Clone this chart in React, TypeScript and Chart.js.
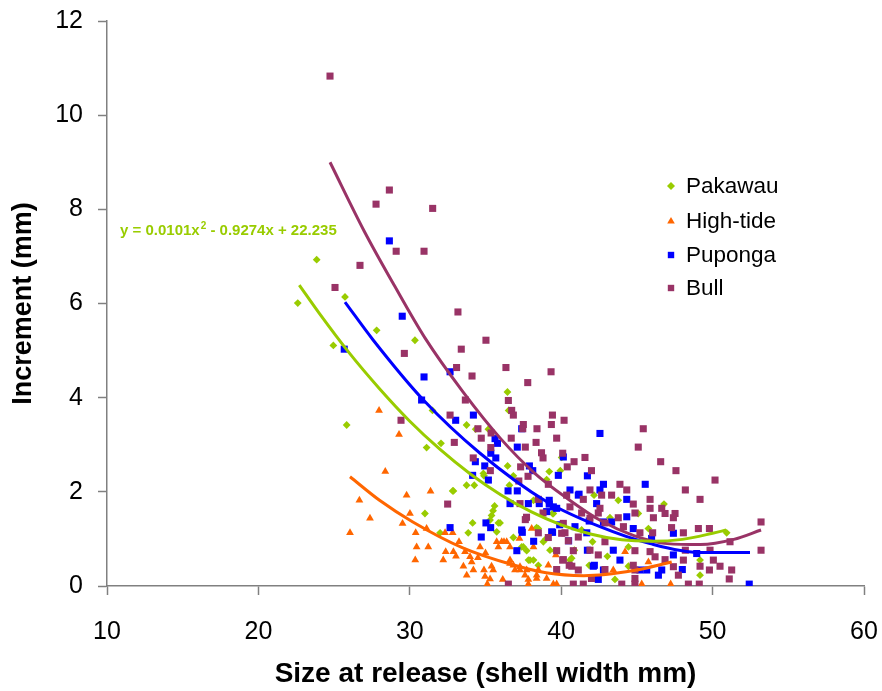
import React, { useEffect, useRef } from "react";
import { Chart, registerables } from "chart.js";

Chart.register(...registerables);

// ---------- data ----------
const xTicks = [10, 20, 30, 40, 50, 60];
const yTicks = [0, 2, 4, 6, 8, 10, 12];
const seriesNames = ["Pakawau", "High-tide", "Puponga", "Bull"];
const xTitle = "Size at release (shell width mm)";
const yTitle = "Increment (mm)";
const equationParts = ["y = 0.0101x", "2", " - 0.9274x + 22.235"];

const pakawauPoints: [number, number][] = [
  [22.6, 6.01], [23.85, 6.93], [25.72, 6.14], [27.81, 5.43], [30.34, 5.22], [24.95, 5.11], [25.83, 3.42],
  [31.11, 2.94], [32.06, 3.03], [31.5, 3.73], [36.45, 4.12], [36.53, 3.73], [33.75, 3.42], [34.35, 3.33],
  [35.19, 3.33], [32.88, 2.02], [33.75, 2.14], [34.26, 2.14], [34.9, 2.34], [31.0, 1.54], [34.15, 1.34],
  [33.86, 1.13], [32.0, 1.13], [35.5, 1.6], [35.4, 1.5], [35.3, 1.4], [35.6, 1.7], [35.85, 1.34],
  [35.74, 1.15], [36.46, 2.55], [36.84, 2.34], [39.04, 2.26], [39.21, 2.43], [40.03, 2.73], [36.58, 2.14],
  [36.68, 1.75], [39.48, 1.54], [36.84, 1.03], [37.39, 0.83], [37.72, 0.75], [37.94, 0.55], [38.17, 0.55],
  [38.49, 0.44], [38.82, 0.94], [39.59, 0.75], [40.58, 0.55], [40.87, 0.76], [39.94, 2.45], [43.77, 1.82],
  [46.79, 1.74], [45.09, 1.54], [43.22, 1.45], [42.17, 1.93], [39.43, 1.54], [38.38, 1.24], [41.35, 1.19],
  [42.07, 0.94], [44.44, 0.83], [45.76, 1.22], [50.93, 1.13], [39.26, 0.76], [40.69, 0.59], [43.05, 0.63],
  [43.55, 0.14], [49.17, 0.23], [49.17, 0.55], [44.44, 0.42], [41.85, 0.44], [37.84, 0.55], [35.96, 1.34],
  [38.17, 1.82], [38.49, 1.22], [38.99, 1.0], [37.5, 0.83], [34.86, 2.39], [32.83, 2.02],
];

const highTidePoints: [number, number][] = [
  [26.05, 1.13], [27.97, 3.73], [29.29, 3.22], [26.67, 1.82], [27.37, 1.44], [28.38, 2.43], [29.79, 1.93],
  [31.37, 2.01], [30.01, 1.54], [29.52, 1.33], [30.39, 1.13], [31.11, 1.22], [30.45, 0.83], [31.22, 0.83],
  [30.36, 0.55], [32.21, 0.55], [32.37, 0.73], [32.88, 0.73], [33.05, 0.63], [32.33, 1.13], [32.83, 1.13],
  [33.25, 0.94], [33.65, 0.73], [33.54, 0.42], [33.98, 0.62], [34.09, 0.51], [33.76, 0.23], [34.2, 0.34],
  [34.64, 0.83], [34.9, 0.34], [34.97, 0.2], [35.12, 0.04], [35.4, 0.42], [35.51, 0.34], [35.74, 0.94],
  [36.07, 0.94], [36.4, 0.94], [36.62, 0.83], [35.85, 0.83], [36.14, 0.14], [36.62, 0.55], [36.84, 0.44],
  [37.24, 1.01], [36.95, 0.34], [37.28, 0.34], [37.72, 0.34], [37.83, 0.14], [37.83, 0.04], [38.17, 0.83],
  [38.38, 0.23], [38.49, 0.34], [39.15, 0.44], [39.48, 0.04], [39.7, 0.04], [39.65, 0.66], [38.05, 1.22],
  [44.22, 0.73], [45.76, 0.51], [45.32, 0.04], [47.23, 0.04], [43.44, 0.34], [36.62, 0.48], [37.28, 0.41],
  [37.61, 0.23], [38.38, 0.16], [39.04, 0.16], [36.22, 0.94], [34.5, 0.6], [35.0, 0.7], [35.3, 0.15],
];

const pupongaPoints: [number, number][] = [
  [25.67, 5.03], [28.65, 7.33], [29.5, 5.73], [30.94, 4.44], [32.66, 4.55], [30.78, 3.95], [33.03, 3.52],
  [34.2, 3.63], [37.39, 3.34], [35.63, 3.13], [35.79, 3.03], [37.1, 2.95], [35.35, 2.82], [35.68, 2.72],
  [34.33, 2.64], [34.95, 2.55], [37.9, 2.55], [38.12, 2.45], [34.15, 2.35], [35.19, 2.25], [39.81, 2.35],
  [36.49, 2.02], [37.1, 2.02], [40.58, 2.04], [41.13, 1.93], [36.62, 1.75], [37.83, 1.75], [39.21, 1.82],
  [38.55, 1.75], [39.48, 1.68], [39.7, 1.65], [39.04, 1.58], [35.03, 1.34], [35.34, 1.24], [32.66, 1.24],
  [34.72, 1.04], [37.43, 1.14], [38.18, 0.95], [37.07, 0.75], [39.43, 1.14], [40.49, 0.96], [40.14, 2.74],
  [42.56, 3.24], [41.73, 2.34], [42.79, 2.16], [45.55, 2.16], [42.56, 2.04], [41.18, 1.95], [44.33, 1.84],
  [42.34, 1.75], [39.21, 1.74], [41.85, 1.38], [42.79, 1.36], [43.33, 1.36], [44.33, 1.47], [40.91, 1.26],
  [41.69, 1.13], [39.37, 1.15], [43.44, 0.76], [41.73, 0.76], [47.41, 0.66], [43.88, 0.55], [42.19, 0.44],
  [45.65, 0.34], [46.42, 0.23], [48.0, 0.35], [42.79, 0.34], [42.45, 0.14], [52.42, 0.04], [46.64, 0.34],
  [42.12, 0.42], [48.95, 0.69], [45.97, 1.01], [44.76, 1.22], [47.41, 1.12], [45.2, 0.34], [37.39, 1.19],
  [39.9, 1.3],
];

const bullPoints: [number, number][] = [
  [24.73, 10.83], [25.06, 6.34], [26.71, 6.81], [27.77, 8.11], [28.65, 8.41], [29.1, 7.11], [30.94, 7.11],
  [31.51, 8.02], [33.18, 5.82], [35.03, 5.22], [33.4, 5.03], [29.64, 4.94], [33.09, 4.64], [34.11, 4.46],
  [36.35, 4.64], [39.33, 4.55], [37.79, 4.32], [33.67, 3.95], [36.51, 3.94], [36.73, 3.73], [36.84, 3.63],
  [32.66, 3.63], [29.42, 3.52], [39.42, 3.63], [40.19, 3.52], [37.5, 3.43], [34.5, 3.34], [39.35, 3.43],
  [37.46, 3.34], [38.4, 3.34], [34.72, 3.14], [36.7, 3.14], [39.7, 3.14], [32.94, 3.05], [35.37, 3.25],
  [35.35, 2.94], [37.63, 2.95], [38.34, 3.05], [34.19, 2.72], [38.7, 2.83], [38.8, 2.72], [40.1, 2.82],
  [40.85, 2.64], [40.4, 2.53], [37.32, 2.53], [35.32, 2.45], [37.81, 2.33], [37.2, 2.23], [39.15, 2.16],
  [40.36, 1.93], [32.5, 1.74], [37.28, 1.75], [38.8, 1.55], [37.71, 1.46], [40.58, 1.68], [38.49, 1.13],
  [39.15, 1.03], [40.03, 1.12], [40.47, 0.96], [39.7, 0.75], [40.8, 0.75], [40.1, 0.55], [39.7, 0.35],
  [40.7, 0.42], [36.51, 0.04], [40.8, 0.04], [37.63, 1.41], [45.42, 3.34], [45.09, 2.95], [41.57, 2.73],
  [46.57, 2.64], [47.58, 2.45], [42.0, 2.45], [50.16, 2.25], [43.88, 2.16], [44.33, 2.04], [48.2, 2.04],
  [41.9, 2.04], [42.67, 1.93], [43.33, 1.93], [49.17, 1.84], [45.87, 1.84], [41.46, 1.84], [38.49, 1.84],
  [44.76, 1.74], [42.56, 1.65], [45.87, 1.65], [46.64, 1.65], [46.86, 1.54], [47.52, 1.54], [41.35, 1.55],
  [42.45, 1.55], [44.87, 1.55], [43.77, 1.45], [46.09, 1.45], [47.41, 1.45], [41.9, 1.44], [40.14, 1.33],
  [42.89, 1.34], [44.11, 1.26], [47.29, 1.24], [49.06, 1.22], [49.79, 1.22], [53.2, 1.36], [45.2, 1.13],
  [46.04, 1.13], [48.07, 1.13], [40.25, 1.13], [41.13, 1.04], [42.89, 0.94], [51.15, 0.94], [44.87, 0.75],
  [45.87, 0.73], [46.2, 0.62], [48.2, 0.76], [49.83, 0.76], [53.2, 0.76], [41.9, 0.76], [42.45, 0.66],
  [40.14, 0.56], [46.86, 0.56], [48.07, 0.55], [50.05, 0.55], [50.49, 0.42], [49.17, 0.42], [49.79, 0.34],
  [51.26, 0.34], [44.76, 0.44], [44.87, 0.34], [42.89, 0.35], [41.13, 0.34], [40.53, 0.44], [47.74, 0.23],
  [51.1, 0.15], [42.0, 0.16], [44.87, 0.16], [44.0, 0.04], [44.87, 0.04], [48.4, 0.04], [49.12, 0.04],
  [41.46, 0.04], [47.41, 0.41],
];

// trend lines
const pakawauTrend: [number, number][] = [
  [22.7, 6.39], [24, 5.8], [26, 4.95], [28, 4.19], [30, 3.5], [32, 2.9], [34, 2.38], [36, 1.94],
  [38, 1.58], [40, 1.3], [42, 1.1], [44, 0.98], [46, 0.95], [48, 0.99], [50, 1.12], [50.9, 1.19],
];
const highTideTrend: [number, number][] = [
  [26.05, 2.32], [28, 1.82], [30.2, 1.36], [33.5, 0.81], [36.8, 0.45], [39, 0.28], [41.5, 0.22],
  [44.8, 0.33], [47.3, 0.51],
];
const pupongaTrend: [number, number][] = [
  [25.72, 6.03], [27.59, 5.22], [30.9, 3.95], [34.64, 2.82], [39.05, 1.79], [42.56, 1.26], [45.87, 0.9],
  [49.17, 0.71], [52.47, 0.71],
];
const bullTrend: [number, number][] = [
  [24.73, 9.0], [27, 7.53], [29, 6.37], [31, 5.27], [33.5, 4.13], [36, 3.13], [38.2, 2.41], [40.4, 1.86],
  [42.6, 1.39], [44.8, 1.07], [47, 0.9], [49.2, 0.88], [51.4, 0.99], [53.2, 1.19],
];

const colors = ["#99CC00", "#FF6600", "#0000FF", "#993366"];

// ---------- styling ----------
const FONT = "'Liberation Sans', Arial, Helvetica, sans-serif";
const AXIS_COLOR = "#808080";

const toXY = (arr: [number, number][]) => arr.map(([x, y]) => ({ x, y }));

function drawMarker(ctx: CanvasRenderingContext2D, style: string, cx: number, cy: number, s: number) {
  ctx.beginPath();
  if (style === "rectRot") {
    ctx.moveTo(cx, cy - s);
    ctx.lineTo(cx + s, cy);
    ctx.lineTo(cx, cy + s);
    ctx.lineTo(cx - s, cy);
  } else if (style === "triangle") {
    ctx.moveTo(cx, cy - s);
    ctx.lineTo(cx + s * 0.95, cy + s * 0.65);
    ctx.lineTo(cx - s * 0.95, cy + s * 0.65);
  } else {
    ctx.rect(cx - s * 0.8, cy - s * 0.8, s * 1.6, s * 1.6);
  }
  ctx.closePath();
  ctx.fill();
}

const overlayPlugin = {
  id: "overlayLegend",
  afterDraw(chart: any) {
    const ctx: CanvasRenderingContext2D = chart.ctx;
    ctx.save();
    // legend
    const styles = ["rectRot", "triangle", "rect", "rect"];
    const rowY = [186, 221, 255, 288];
    ctx.font = `22.5px ${FONT}`;
    ctx.textBaseline = "middle";
    ctx.textAlign = "left";
    seriesNames.forEach((name, i) => {
      ctx.fillStyle = colors[i];
      drawMarker(ctx, styles[i], 671, rowY[i], 4);
      ctx.fillStyle = "#000";
      ctx.fillText(name, 686, rowY[i] + 1);
    });
    // equation
    ctx.fillStyle = colors[0];
    ctx.font = `bold 15px ${FONT}`;
    let x = 120;
    const y = 231;
    ctx.fillText(equationParts[0], x, y);
    x += ctx.measureText(equationParts[0]).width + 1;
    ctx.font = `bold 10px ${FONT}`;
    ctx.fillText(equationParts[1], x, y - 5);
    x += ctx.measureText(equationParts[1]).width;
    ctx.font = `bold 15px ${FONT}`;
    ctx.fillText(equationParts[2], x, y);
    ctx.restore();
  },
};

export default function App() {
  const canvasRef = useRef<HTMLCanvasElement | null>(null);

  useEffect(() => {
    document.body.style.margin = "0";
    document.body.style.overflow = "hidden";
    const canvas = canvasRef.current;
    if (!canvas) return;

    const pointSet = (label: string, pts: [number, number][], color: string, style: string, radius: number, order: number) => ({
      label,
      data: toXY(pts),
      showLine: false,
      pointStyle: style,
      pointRadius: radius,
      pointHoverRadius: radius,
      pointBackgroundColor: color,
      pointBorderColor: color,
      pointBorderWidth: 0,
      backgroundColor: color,
      borderColor: color,
      order,
    });

    const trendSet = (label: string, pts: [number, number][], color: string) => ({
      label,
      data: toXY(pts),
      showLine: true,
      borderColor: color,
      backgroundColor: color,
      borderWidth: 3,
      pointRadius: 0,
      pointHoverRadius: 0,
      cubicInterpolationMode: "monotone",
      fill: false,
      order: 0,
    });

    const chart = new Chart(canvas, {
      type: "scatter",
      data: {
        datasets: [
          pointSet(seriesNames[0], pakawauPoints, colors[0], "rectRot", 3.9, 4),
          pointSet(seriesNames[1], highTidePoints, colors[1], "triangle", 4.5, 3),
          pointSet(seriesNames[2], pupongaPoints, colors[2], "rect", 5, 2),
          pointSet(seriesNames[3], bullPoints, colors[3], "rect", 5, 1),
          trendSet("Pakawau trend", pakawauTrend, colors[0]),
          trendSet("High-tide trend", highTideTrend, colors[1]),
          trendSet("Puponga trend", pupongaTrend, colors[2]),
          trendSet("Bull trend", bullTrend, colors[3]),
        ] as any,
      },
      options: {
        animation: false,
        responsive: true,
        maintainAspectRatio: false,
        devicePixelRatio: 1,
        events: [],
        layout: { padding: { left: 0, top: 21, right: 18, bottom: 0 } },
        plugins: {
          legend: { display: false },
          tooltip: { enabled: false },
          title: { display: false },
        },
        scales: {
          x: {
            type: "linear",
            min: xTicks[0],
            max: xTicks[xTicks.length - 1],
            afterBuildTicks: (s: any) => {
              s.ticks = xTicks.map((v) => ({ value: v }));
            },
            afterFit: (s: any) => {
              s.height = 105;
              s.paddingLeft = 0;
              s.paddingRight = 0;
              s.paddingTop = 0;
              s.paddingBottom = 0;
            },
            ticks: {
              color: "#000",
              font: { family: FONT, size: 25 },
              padding: 22,
              maxRotation: 0,
              autoSkip: false,
            },
            grid: {
              display: true,
              drawOnChartArea: false,
              drawTicks: true,
              tickLength: 9,
              tickColor: AXIS_COLOR,
              tickWidth: 1.5,
            },
            border: { display: true, color: AXIS_COLOR, width: 1.5 },
            title: {
              display: true,
              text: xTitle,
              color: "#000",
              font: { family: FONT, size: 28, weight: "bold" },
              padding: { top: 0, bottom: 0 },
            },
          },
          y: {
            type: "linear",
            min: yTicks[0],
            max: yTicks[yTicks.length - 1],
            afterBuildTicks: (s: any) => {
              s.ticks = yTicks.map((v) => ({ value: v }));
            },
            afterFit: (s: any) => {
              s.width = 107;
              s.paddingLeft = 0;
              s.paddingRight = 0;
              s.paddingTop = 0;
              s.paddingBottom = 0;
            },
            ticks: {
              color: "#000",
              font: { family: FONT, size: 25 },
              padding: 15,
              autoSkip: false,
            },
            grid: {
              display: true,
              drawOnChartArea: false,
              drawTicks: true,
              tickLength: 9,
              tickColor: AXIS_COLOR,
              tickWidth: 1.5,
            },
            border: { display: true, color: AXIS_COLOR, width: 1.5 },
            title: {
              display: true,
              text: yTitle,
              color: "#000",
              font: { family: FONT, size: 27, weight: "bold" },
              padding: { top: 7, bottom: 0 },
            },
          },
        },
      } as any,
      plugins: [overlayPlugin],
    });

    return () => {
      chart.destroy();
    };
  }, []);

  return (
    <div style={{ width: "882px", height: "691px", position: "relative", background: "#fff" }}>
      <canvas ref={canvasRef} />
    </div>
  );
}
